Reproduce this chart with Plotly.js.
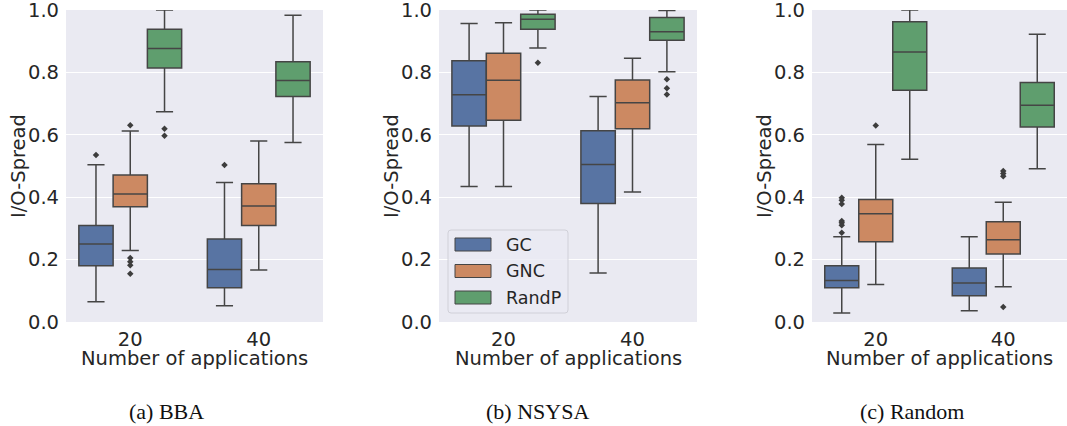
<!DOCTYPE html>
<html>
<head>
<meta charset="utf-8">
<script src="https://cdn.plot.ly/plotly-3.0.1.min.js"></script>
<style>
  html, body { margin: 0; padding: 0; background: #ffffff; }
  #chart { width: 1067px; height: 426px; }
</style>
</head>
<body>
<div id="chart"></div>
<script>
// Categories on the x axis and the three placement strategies
const categories = ['20', '40'];
const seriesNames = ['GC', 'GNC', 'RandP'];
const seriesColors = ['#5874a3', '#cc8962', '#5f9e6e'];
const panelCaptions = ['(a) BBA', '(b) NSYSA', '(c) Random'];

// Box statistics per panel and strategy: one value per category (20, 40)
// (a) BBA
const bbaGC    = { lower: [0.065, 0.052], q1: [0.180, 0.110], median: [0.250, 0.168], q3: [0.309, 0.266], upper: [0.504, 0.447] };
const bbaGNC   = { lower: [0.229, 0.167], q1: [0.369, 0.309], median: [0.410, 0.372], q3: [0.471, 0.443], upper: [0.612, 0.580] };
const bbaRandP = { lower: [0.674, 0.575], q1: [0.814, 0.723], median: [0.877, 0.774], q3: [0.938, 0.834], upper: [1.000, 0.983] };
const bbaGCOut    = [[0.535], [0.503]];
const bbaGNCOut   = [[0.631, 0.205, 0.193, 0.182, 0.155], []];
const bbaRandPOut = [[0.619, 0.597], []];

// (b) NSYSA
const nsysaGC    = { lower: [0.434, 0.157], q1: [0.628, 0.380], median: [0.728, 0.505], q3: [0.837, 0.613], upper: [0.957, 0.723] };
const nsysaGNC   = { lower: [0.434, 0.417], q1: [0.647, 0.619], median: [0.775, 0.703], q3: [0.861, 0.776], upper: [0.959, 0.845] };
const nsysaRandP = { lower: [0.878, 0.802], q1: [0.938, 0.903], median: [0.970, 0.930], q3: [0.986, 0.976], upper: [1.000, 0.998] };
const nsysaGCOut    = [[], []];
const nsysaGNCOut   = [[], []];
const nsysaRandPOut = [[0.831], [0.778, 0.749, 0.729]];

// (c) Random
const randGC    = { lower: [0.029, 0.036], q1: [0.110, 0.084], median: [0.133, 0.125], q3: [0.180, 0.173], upper: [0.273, 0.273] };
const randGNC   = { lower: [0.120, 0.113], q1: [0.257, 0.218], median: [0.347, 0.264], q3: [0.393, 0.321], upper: [0.569, 0.384] };
const randRandP = { lower: [0.522, 0.491], q1: [0.743, 0.625], median: [0.865, 0.695], q3: [0.962, 0.768], upper: [1.000, 0.922] };
const randGCOut    = [[0.398, 0.390, 0.378, 0.324, 0.318, 0.310, 0.286], []];
const randGNCOut   = [[0.630], [0.484, 0.476, 0.467, 0.048]];
const randRandPOut = [[], []];

const yTickVals = [0, 0.2, 0.4, 0.6, 0.8, 1.0];

const panels = [
  { stats: [bbaGC, bbaGNC, bbaRandP],       outliers: [bbaGCOut, bbaGNCOut, bbaRandPOut] },
  { stats: [nsysaGC, nsysaGNC, nsysaRandP], outliers: [nsysaGCOut, nsysaGNCOut, nsysaRandPOut] },
  { stats: [randGC, randGNC, randRandP],    outliers: [randGCOut, randGNCOut, randRandPOut] }
];

// Figure geometry (pixels) and styling
const W = 1067, H = 426;
const TXT = '#262626';
const EDGE = '#454545';
const FONT = 'DejaVu Sans, sans-serif';
const FS = 19.5;
const panelPx = [[66, 323], [439, 697], [812, 1067]];
const plotTop = 10, plotBottom = 322;
const boxWidth = 0.8 / seriesNames.length;
const px = v => v / W;
const py = v => 1 - v / H;

const traces = [];
const layout = {
  width: W, height: H,
  margin: { l: 0, r: 0, t: 0, b: 0, pad: 0 },
  paper_bgcolor: '#ffffff',
  plot_bgcolor: '#eaeaf2',
  showlegend: false,
  font: { family: FONT, size: FS, color: TXT },
  shapes: [],
  annotations: []
};

panels.forEach((panel, p) => {
  const sfx = p === 0 ? '' : String(p + 1);
  const xa = 'x' + sfx, ya = 'y' + sfx;

  seriesNames.forEach((name, s) => {
    const offset = (s - (seriesNames.length - 1) / 2) * boxWidth;
    const pos = categories.map((c, i) => i + offset);
    const st = panel.stats[s];
    traces.push({
      type: 'box',
      name: name,
      orientation: 'v',
      xaxis: xa, yaxis: ya,
      x: pos,
      q1: st.q1, median: st.median, q3: st.q3,
      lowerfence: st.lower, upperfence: st.upper,
      width: boxWidth,
      whiskerwidth: 0.5,
      fillcolor: seriesColors[s],
      line: { color: EDGE, width: 1.5 },
      boxpoints: false,
      hoverinfo: 'skip'
    });

    // Fliers beyond the whiskers
    const ox = [], oy = [];
    panel.outliers[s].forEach((vals, i) => {
      vals.forEach(v => { ox.push(pos[i]); oy.push(v); });
    });
    if (ox.length) {
      traces.push({
        type: 'scatter', mode: 'markers',
        xaxis: xa, yaxis: ya,
        x: ox, y: oy,
        marker: { symbol: 'diamond', size: 5, color: '#3d3d3d', line: { width: 0 } },
        hoverinfo: 'skip', cliponaxis: false
      });
    }
  });

  const [x0, x1] = panelPx[p];
  layout['xaxis' + sfx] = {
    domain: [px(x0), px(x1)],
    anchor: ya,
    range: [-0.5, categories.length - 0.5],
    tickvals: categories.map((c, i) => i),
    ticktext: categories,
    showgrid: false, zeroline: false, showline: false,
    ticks: '', ticklabelstandoff: 3,
    ticklabeloverflow: 'allow',
    tickfont: { family: FONT, size: FS, color: TXT },
    automargin: false, fixedrange: true
  };
  layout['yaxis' + sfx] = {
    domain: [py(plotBottom), py(plotTop)],
    anchor: xa,
    range: [0, 1],
    tickvals: yTickVals,
    tickformat: '.1f',
    showgrid: true, gridcolor: '#ffffff', gridwidth: 1,
    zeroline: false, showline: false,
    ticks: '', ticklabelstandoff: 6,
    ticklabeloverflow: 'allow',
    tickfont: { family: FONT, size: FS, color: TXT },
    automargin: false, fixedrange: true
  };

  // Axis titles
  layout.annotations.push({
    xref: 'paper', yref: 'paper',
    x: px((x0 + x1) / 2), y: py(358),
    xanchor: 'center', yanchor: 'middle',
    text: 'Number of applications', showarrow: false, borderpad: 0,
    font: { family: FONT, size: FS, color: TXT }
  });
  layout.annotations.push({
    xref: 'paper', yref: 'paper',
    x: px(x0 - 48), y: py((plotTop + plotBottom) / 2),
    xanchor: 'center', yanchor: 'middle', textangle: -90,
    text: 'I/O-Spread', showarrow: false,
    font: { family: FONT, size: FS, color: TXT }
  });
});

// Sub-figure captions
const captionCenters = [166, 537, 912];
panelCaptions.forEach((t, i) => {
  layout.annotations.push({
    xref: 'paper', yref: 'paper',
    x: px(captionCenters[i]), y: py(411),
    xanchor: 'center', yanchor: 'middle',
    text: t, showarrow: false,
    font: { family: 'Liberation Serif, serif', size: 22, color: '#111111' }
  });
});

// Legend inside the middle panel
const lg = { x0: 448, x1: 568, y0: 230, y1: 313, r: 3 };
layout.shapes.push({
  type: 'path', xref: 'paper', yref: 'paper',
  path: `M ${px(lg.x0 + lg.r)} ${py(lg.y0)} L ${px(lg.x1 - lg.r)} ${py(lg.y0)} Q ${px(lg.x1)} ${py(lg.y0)} ${px(lg.x1)} ${py(lg.y0 + lg.r)} ` +
        `L ${px(lg.x1)} ${py(lg.y1 - lg.r)} Q ${px(lg.x1)} ${py(lg.y1)} ${px(lg.x1 - lg.r)} ${py(lg.y1)} ` +
        `L ${px(lg.x0 + lg.r)} ${py(lg.y1)} Q ${px(lg.x0)} ${py(lg.y1)} ${px(lg.x0)} ${py(lg.y1 - lg.r)} ` +
        `L ${px(lg.x0)} ${py(lg.y0 + lg.r)} Q ${px(lg.x0)} ${py(lg.y0)} ${px(lg.x0 + lg.r)} ${py(lg.y0)} Z`,
  fillcolor: 'rgba(234,234,242,0.8)',
  line: { color: '#d0d0d8', width: 1 },
  layer: 'above'
});
seriesNames.forEach((name, s) => {
  const cy = 244.5 + s * 26.5;
  layout.shapes.push({
    type: 'rect', xref: 'paper', yref: 'paper',
    x0: px(455), x1: px(491), y0: py(cy - 6.5), y1: py(cy + 6.5),
    fillcolor: seriesColors[s],
    line: { color: EDGE, width: 1 },
    layer: 'above'
  });
  layout.annotations.push({
    xref: 'paper', yref: 'paper',
    x: px(504), y: py(cy),
    xanchor: 'left', yanchor: 'middle',
    text: name, showarrow: false,
    font: { family: FONT, size: 17.5, color: TXT }
  });
});

Plotly.newPlot('chart', traces, layout, { staticPlot: true, displayModeBar: false });
</script>
</body>
</html>
